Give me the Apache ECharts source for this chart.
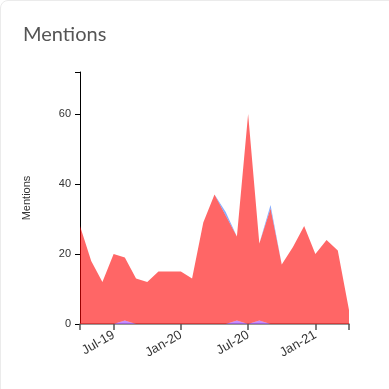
<!DOCTYPE html>
<html>
<head>
<meta charset="utf-8">
<script src="https://cdn.jsdelivr.net/npm/echarts@6/dist/echarts.min.js"></script>
<style>
  html, body { margin: 0; padding: 0; background: #fff; }
  #card { position: absolute; left: 0; top: 0; width: 420px; height: 420px; border: 1px solid #ebebeb; border-radius: 8px; box-sizing: border-box; }
  #chart { position: absolute; left: 0; top: 0; width: 389px; height: 389px; }
</style>
</head>
<body>
<div id="card"></div>
<div id="chart"></div>
<script>
const months = ['Apr-19','May-19','Jun-19','Jul-19','Aug-19','Sep-19','Oct-19','Nov-19','Dec-19','Jan-20','Feb-20','Mar-20','Apr-20','May-20','Jun-20','Jul-20','Aug-20','Sep-20','Oct-20','Nov-20','Dec-20','Jan-21','Feb-21','Mar-21','Apr-21'];
const purpleValues = [0,0,0,0,1,0,0,0,0,0,0,0,0,0,1,0,1,0,0,0,0,0,0,0,0];
const redValues    = [28,18,12,20,18,13,12,15,15,15,13,29,37,31,24,60,22,33,17,22,28,20,24,21,4];
const blueValues   = [0,0,0,0,0,0,0,0,0,0,0,0,0,1,0,0,0,1,0,0,0,0,0,0,0];
const labelMonths = ['Jul-19','Jan-20','Jul-20','Jan-21'];
const yTicks = [0, 20, 40, 60];

const chart = echarts.init(document.getElementById('chart'));
const labelIdx = months.map((m, i) => labelMonths.includes(m) ? i : -1).filter(i => i >= 0);

function areaSeries(name, data, color) {
  return {
    name, type: 'line', stack: 'total', data,
    showSymbol: false, symbol: 'none',
    lineStyle: { width: 0 },
    areaStyle: { color, opacity: 0.6 },
    itemStyle: { color },
    emphasis: { disabled: true },
    animation: false
  };
}

chart.setOption({
  animation: false,
  title: {
    text: 'Mentions', left: 18, top: 20,
    textStyle: { fontFamily: 'Lato', fontSize: 20, fontWeight: 'normal', color: '#555' }
  },
  grid: { left: 80, right: 40, top: 72, bottom: 65 },
  xAxis: {
    type: 'category', data: months, boundaryGap: false,
    axisLine: { lineStyle: { color: '#777', width: 1.5 } },
    axisTick: { show: true, length: 6, lineStyle: { color: '#555', width: 1.5 },
      interval: (i) => i === 0 || i === months.length - 1 || labelIdx.includes(i) },
    axisLabel: {
      interval: (i) => labelIdx.includes(i),
      rotate: 30, margin: 10, fontSize: 13, color: '#333', fontFamily: 'Liberation Sans, Arial, sans-serif'
    },
    splitLine: { show: false }
  },
  yAxis: {
    type: 'value', min: 0, max: 72, interval: 20,
    name: 'Mentions', nameLocation: 'middle', nameGap: 48, nameRotate: 90,
    nameTextStyle: { fontSize: 11, color: '#333', fontFamily: 'Liberation Sans, Arial, sans-serif' },
    axisLine: { show: true, lineStyle: { color: '#000', width: 1 } },
    axisTick: { show: true, length: 5, lineStyle: { color: '#000' } },
    axisLabel: { margin: 9, fontSize: 11, color: '#333', fontFamily: 'Liberation Sans, Arial, sans-serif',
      formatter: (v) => yTicks.includes(v) ? String(v) : '' },
    splitLine: { show: false }
  },
  series: [
    areaSeries('purple', purpleValues, '#a040ff'),
    areaSeries('red', redValues, '#ff0000'),
    areaSeries('blue', blueValues, '#3377ff')
  ]
});
</script>
</body>
</html>
